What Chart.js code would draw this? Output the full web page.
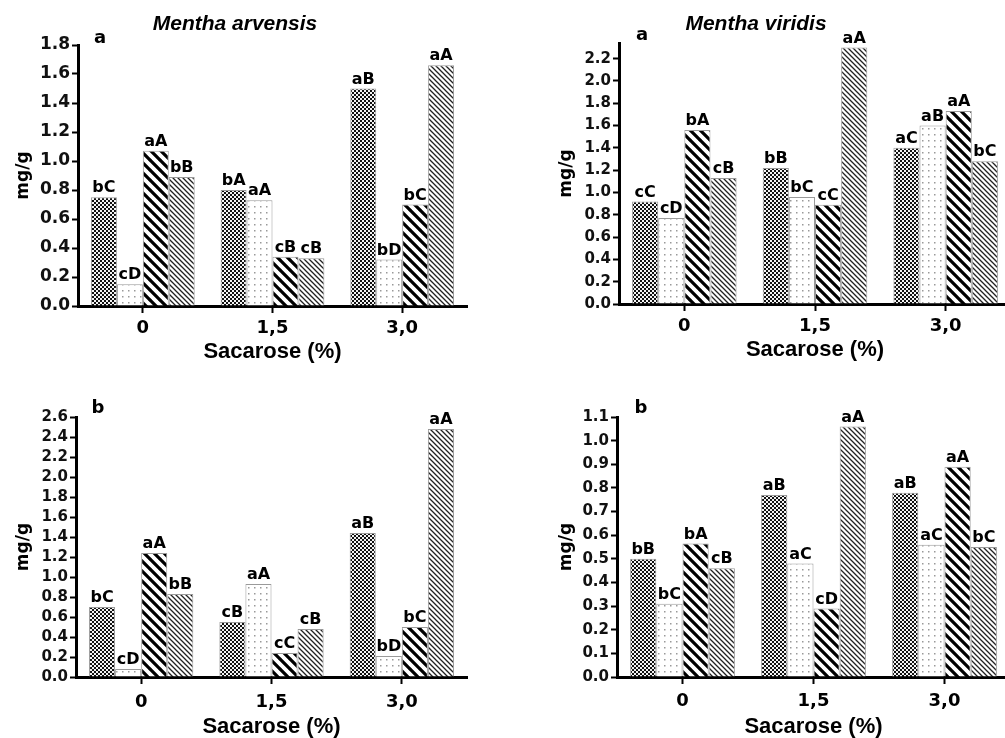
<!DOCTYPE html>
<html>
<head>
<meta charset="utf-8">
<script src="https://cdn.jsdelivr.net/npm/chart.js@4.4.0/dist/chart.umd.min.js"></script>
<style>
  html, body { margin: 0; padding: 0; background: #fff; overflow: hidden; }
  body { width: 1005px; height: 738px; position: relative; }
  canvas { position: absolute; }
</style>
</head>
<body>
<canvas id="arvA" width="480" height="369" style="left:0;top:0"></canvas>
<canvas id="virA" width="530" height="369" style="left:500px;top:0"></canvas>
<canvas id="arvB" width="480" height="369" style="left:0;top:369px"></canvas>
<canvas id="virB" width="530" height="369" style="left:500px;top:369px"></canvas>
<script>
// categories (sacarose %)
const sacarose = ['0', '1,5', '3,0'];

// Mentha arvensis - a
const arvA_s1 = [0.75, 0.80, 1.50];
const arvA_s2 = [0.15, 0.73, 0.32];
const arvA_s3 = [1.07, 0.34, 0.70];
const arvA_s4 = [0.89, 0.33, 1.66];
const arvA_l1 = ['bC', 'bA', 'aB'];
const arvA_l2 = ['cD', 'aA', 'bD'];
const arvA_l3 = ['aA', 'cB', 'bC'];
const arvA_l4 = ['bB', 'cB', 'aA'];

// Mentha viridis - a
const virA_s1 = [0.92, 1.22, 1.40];
const virA_s2 = [0.77, 0.96, 1.60];
const virA_s3 = [1.56, 0.89, 1.73];
const virA_s4 = [1.13, 2.30, 1.28];
const virA_l1 = ['cC', 'bB', 'aC'];
const virA_l2 = ['cD', 'bC', 'aB'];
const virA_l3 = ['bA', 'cC', 'aA'];
const virA_l4 = ['cB', 'aA', 'bC'];

// Mentha arvensis - b
const arvB_s1 = [0.70, 0.55, 1.44];
const arvB_s2 = [0.08, 0.93, 0.21];
const arvB_s3 = [1.24, 0.24, 0.50];
const arvB_s4 = [0.83, 0.48, 2.48];
const arvB_l1 = ['bC', 'cB', 'aB'];
const arvB_l2 = ['cD', 'aA', 'bD'];
const arvB_l3 = ['aA', 'cC', 'bC'];
const arvB_l4 = ['bB', 'cB', 'aA'];

// Mentha viridis - b
const virB_s1 = [0.50, 0.77, 0.78];
const virB_s2 = [0.31, 0.48, 0.56];
const virB_s3 = [0.565, 0.29, 0.89];
const virB_s4 = [0.46, 1.06, 0.55];
const virB_l1 = ['bB', 'aB', 'aB'];
const virB_l2 = ['bC', 'aC', 'aC'];
const virB_l3 = ['bA', 'cD', 'aA'];
const virB_l4 = ['cB', 'aA', 'bC'];

// pattern tiles
function tile(kind) {
  const c = document.createElement('canvas');
  const g = c.getContext('2d');
  if (kind === 'checker') {
    c.width = c.height = 4;
    g.fillStyle = '#f4f4f4'; g.fillRect(0, 0, 4, 4);
    g.fillStyle = '#111'; g.fillRect(0, 0, 2, 2); g.fillRect(2, 2, 2, 2);
  } else if (kind === 'dots') {
    c.width = c.height = 6;
    g.fillStyle = '#fff'; g.fillRect(0, 0, 6, 6);
    g.fillStyle = '#999'; g.fillRect(2, 2, 1.5, 1.5);
  } else {
    const n = kind === 'thick' ? 10 : 5;
    c.width = c.height = n;
    g.fillStyle = '#fff'; g.fillRect(0, 0, n, n);
    g.strokeStyle = kind === 'thick' ? '#000' : '#222';
    g.lineWidth = kind === 'thick' ? 3.2 : 1.3;
    g.beginPath();
    for (const o of [-n, 0, n]) { g.moveTo(o - 1, -1); g.lineTo(o + n + 1, n + 1); }
    g.stroke();
  }
  return c;
}
const tiles = [tile('checker'), tile('dots'), tile('thick'), tile('thin')];

// draws the letters over bars, the species name and panel letter
const barLetters = {
  id: 'barLetters',
  afterDatasetsDraw(chart, args, o) {
    const ctx = chart.ctx;
    ctx.save();
    ctx.fillStyle = '#000';
    ctx.textAlign = 'center';
    ctx.textBaseline = 'bottom';
    ctx.font = 'bold 16px "DejaVu Sans"';
    chart.data.datasets.forEach((ds, i) => {
      chart.getDatasetMeta(i).data.forEach((bar, j) => {
        ctx.fillText(ds.letters[j], bar.x, bar.y - 1);
      });
    });
    ctx.textBaseline = 'alphabetic';
    ctx.font = 'bold 18px "DejaVu Sans"';
    ctx.fillText(o.panel, o.panelX, o.panelY);
    if (o.title) {
      ctx.font = 'italic bold 21px "Liberation Sans", Arial, sans-serif';
      ctx.fillText(o.title, o.titleX, 30);
    }
    ctx.restore();
  }
};

function drawPanel(id, series, letters, y, g, txt) {
  const ctx = document.getElementById(id).getContext('2d');
  return new Chart(ctx, {
    type: 'bar',
    data: {
      labels: sacarose,
      datasets: series.map((s, i) => ({
        label: 'T' + (i + 1),
        data: s,
        letters: letters[i],
        backgroundColor: ctx.createPattern(tiles[i], 'repeat'),
        borderColor: '#9a9a9a',
        borderWidth: 1,
        barPercentage: 1.0,
        categoryPercentage: 0.8
      }))
    },
    options: {
      responsive: false,
      animation: false,
      layout: { padding: { top: g.top, right: g.right, left: 0, bottom: 0 } },
      plugins: {
        legend: { display: false },
        tooltip: { enabled: false },
        barLetters: txt
      },
      scales: {
        x: {
          grid: { display: true, drawOnChartArea: false, offset: false, tickLength: 7, tickWidth: 2, tickColor: '#000' },
          border: { display: true, color: '#000', width: 3 },
          ticks: { color: '#000', padding: g.xPad, font: { family: 'DejaVu Sans', weight: 'bold', size: 18 } },
          title: { display: true, text: 'Sacarose (%)', color: '#000', padding: { top: 0, bottom: g.xTitle },
                   font: { family: 'Liberation Sans', weight: 'bold', size: 22, lineHeight: 1 } },
          afterFit: s => { s.height = g.xH; }
        },
        y: {
          min: 0,
          max: y.max,
          grid: { display: true, drawOnChartArea: false, tickLength: 6, tickWidth: 2, tickColor: '#000' },
          border: { display: true, color: '#000', width: 3 },
          ticks: { stepSize: y.step, autoSkip: false, color: '#111', padding: 2,
                   font: { family: 'DejaVu Sans', weight: 'bold', size: g.yFont },
                   callback: v => v.toFixed(1) },
          afterBuildTicks: s => {
            const t = [];
            for (let k = 0; k * y.step <= y.lastTick + 1e-9; k++) t.push({ value: +(k * y.step).toFixed(2) });
            s.ticks = t;
          },
          title: { display: true, text: 'mg/g', color: '#000', padding: { top: g.yTitle, bottom: 0 },
                   font: { family: 'DejaVu Sans', weight: 'bold', size: 17, lineHeight: 1 } },
          afterFit: s => { s.width = g.yW; }
        }
      }
    },
    plugins: [barLetters]
  });
}

drawPanel('arvA', [arvA_s1, arvA_s2, arvA_s3, arvA_s4], [arvA_l1, arvA_l2, arvA_l3, arvA_l4],
  { max: 1.8, step: 0.2, lastTick: 1.8 },
  { top: 45, right: 13, yW: 78, xH: 63, yFont: 17, yTitle: 15.5, xTitle: 6, xPad: 4.5 },
  { panel: 'a', panelX: 100, panelY: 43, title: 'Mentha arvensis', titleX: 235 });

drawPanel('virA', [virA_s1, virA_s2, virA_s3, virA_s4], [virA_l1, virA_l2, virA_l3, virA_l4],
  { max: 2.34, step: 0.2, lastTick: 2.2 },
  { top: 43, right: 19, yW: 119, xH: 65, yFont: 15, yTitle: 58, xTitle: 8, xPad: 5 },
  { panel: 'a', panelX: 142, panelY: 40, title: 'Mentha viridis', titleX: 256 });

drawPanel('arvB', [arvB_s1, arvB_s2, arvB_s3, arvB_s4], [arvB_l1, arvB_l2, arvB_l3, arvB_l4],
  { max: 2.6, step: 0.2, lastTick: 2.6 },
  { top: 48, right: 13, yW: 76, xH: 61, yFont: 15, yTitle: 15, xTitle: 0, xPad: 7.5 },
  { panel: 'b', panelX: 98, panelY: 44 });

drawPanel('virB', [virB_s1, virB_s2, virB_s3, virB_s4], [virB_l1, virB_l2, virB_l3, virB_l4],
  { max: 1.1, step: 0.1, lastTick: 1.1 },
  { top: 48, right: 20, yW: 117, xH: 61, yFont: 15, yTitle: 58, xTitle: 0, xPad: 7 },
  { panel: 'b', panelX: 141, panelY: 44 });
</script>
</body>
</html>
